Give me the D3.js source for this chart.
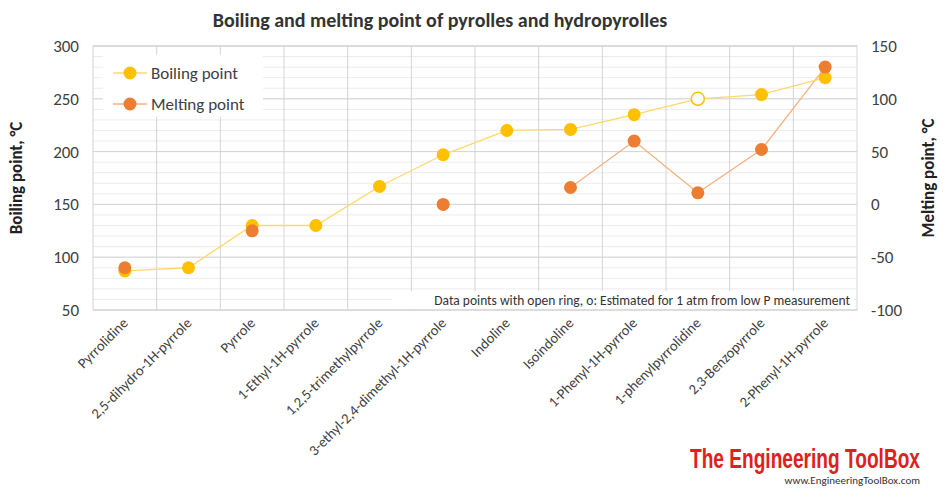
<!DOCTYPE html>
<html><head><meta charset="utf-8">
<script src="https://cdn.jsdelivr.net/npm/d3@7"></script>
<style>body{margin:0;background:#fff}svg{font-family:Calibri,"Liberation Sans",Arial,sans-serif}</style>
</head><body>
<svg id="chart" width="944" height="490"></svg>
<script>
const compounds = ["Pyrrolidine","2,5-dihydro-1H-pyrrole","Pyrrole","1-Ethyl-1H-pyrrole","1,2,5-trimethylpyrrole","3-ethyl-2,4-dimethyl-1H-pyrrole","Indoline","Isoindoline","1-Phenyl-1H-pyrrole","1-phenylpyrrolidine","2,3-Benzopyrrole","2-Phenyl-1H-pyrrole"];
const boiling = [87, 90, 130, 130, 167, 197, 220, 221, 235, 250, 254, 270];
const boilingEstimated = [false,false,false,false,false,false,false,false,false,true,false,false];
const melting = [-60, null, -25, null, null, 0, null, 16, 60, 11, 52, 130];
const leftTicks = [50,100,150,200,250,300];
const rightTicks = [-100,-50,0,50,100,150];

const svg = d3.select("#chart");
const L = 93, R = 857, T = 46, B = 310;
const x = d3.scaleBand().domain(compounds).range([L, R]);
const yB = d3.scaleLinear().domain([50, 300]).range([B, T]);
const yM = d3.scaleLinear().domain([-100, 150]).range([B, T]);

// minor grid
svg.append("g").selectAll("line").data(d3.range(50, 301, 10)).join("line")
  .attr("x1", L).attr("x2", R).attr("y1", d => yB(d)).attr("y2", d => yB(d))
  .attr("stroke", "#ececec");
svg.append("g").selectAll("line").data(leftTicks).join("line")
  .attr("x1", L).attr("x2", R).attr("y1", d => yB(d)).attr("y2", d => yB(d))
  .attr("stroke", "#d4d4d4");
svg.append("g").selectAll("line").data(compounds.slice(1)).join("line")
  .attr("x1", d => x(d)).attr("x2", d => x(d)).attr("y1", T).attr("y2", B)
  .attr("stroke", "#d4d4d4");
svg.append("rect").attr("x", L).attr("y", T).attr("width", R - L).attr("height", B - T)
  .attr("fill", "none").attr("stroke", "#d4d4d4");

// axes
const ga = svg.append("g").attr("font-size", 17).attr("fill", "#404040");
ga.selectAll(".l").data(leftTicks).join("text").attr("x", L - 14).attr("y", d => yB(d) + 6)
  .attr("text-anchor", "end").text(d => d);
ga.selectAll(".r").data(rightTicks).join("text").attr("x", R + 14).attr("y", d => yM(d) + 6)
  .attr("text-anchor", "start").text(d => d);
svg.append("text").attr("transform", `translate(22,${(T + B) / 2}) rotate(-90)`)
  .attr("text-anchor", "middle").attr("font-size", 17).attr("font-weight", "bold").attr("fill", "#222")
  .text("Boiling point, °C");
svg.append("text").attr("transform", `translate(934,${(T + B) / 2}) rotate(-90)`)
  .attr("text-anchor", "middle").attr("font-size", 17).attr("font-weight", "bold").attr("fill", "#222")
  .text("Melting point, °C");
svg.append("g").selectAll("text").data(compounds).join("text")
  .attr("transform", d => `translate(${x(d) + x.bandwidth() / 2 + 4},${B + 14}) rotate(-45)`)
  .attr("text-anchor", "end").attr("font-size", 14.5).attr("fill", "#404040").text(d => d);

// title
svg.append("text").attr("x", 440).attr("y", 27).attr("text-anchor", "middle")
  .attr("font-size", 20).attr("font-weight", "bold").attr("fill", "#333")
  .text("Boiling and melting point of pyrolles and hydropyrolles");

const cx = d => x(d) + x.bandwidth() / 2;
const bData = compounds.map((c, i) => ({c, v: boiling[i], open: boilingEstimated[i]}));
const mData = compounds.map((c, i) => ({c, v: melting[i]}));

svg.append("path").datum(mData)
  .attr("d", d3.line().defined((d, i) => d.v != null && i > 0 && mData[i - 1].v != null || (d.v != null && i < mData.length - 1 && mData[i + 1].v != null))
    .x(d => cx(d.c)).y(d => yM(d.v)))
  .attr("fill", "none").attr("stroke", "#f4b183").attr("stroke-width", 1.3);
svg.append("path").datum(bData)
  .attr("d", d3.line().x(d => cx(d.c)).y(d => yB(d.v)))
  .attr("fill", "none").attr("stroke", "#ffd966").attr("stroke-width", 1.3);

svg.append("g").selectAll("circle").data(bData).join("circle")
  .attr("cx", d => cx(d.c)).attr("cy", d => yB(d.v)).attr("r", 6.5)
  .attr("fill", d => d.open ? "#fff" : "#ffc000").attr("stroke", "#ffc000").attr("stroke-width", d => d.open ? 1.5 : 0);
svg.append("g").selectAll("circle").data(mData.filter(d => d.v != null)).join("circle")
  .attr("cx", d => cx(d.c)).attr("cy", d => yM(d.v)).attr("r", 6.5).attr("fill", "#ed7d31");

// legend
const lg = svg.append("g");
lg.append("rect").attr("x", 103).attr("y", 55).attr("width", 160).attr("height", 62).attr("fill", "#fff");
[["Boiling point", "#ffd966", "#ffc000", 73], ["Melting point", "#f4b183", "#ed7d31", 104]].forEach(([t, lc, fc, y]) => {
  lg.append("line").attr("x1", 113).attr("x2", 147).attr("y1", y).attr("y2", y).attr("stroke", lc).attr("stroke-width", 1.3);
  lg.append("circle").attr("cx", 130).attr("cy", y).attr("r", 6.5).attr("fill", fc);
  lg.append("text").attr("x", 151).attr("y", y + 6).attr("font-size", 17).attr("fill", "#404040").text(t);
});

svg.append("rect").attr("x", 392).attr("y", 291).attr("width", 462).attr("height", 18).attr("fill", "#fff");
svg.append("text").attr("x", 850).attr("y", 305).attr("text-anchor", "end").attr("font-size", 13.5).attr("fill", "#333")
  .text("Data points with open ring, o: Estimated for 1 atm from low P measurement");

// logo
svg.append("text").attr("x", 920).attr("y", 468).attr("text-anchor", "end").attr("font-size", 27)
  .attr("font-weight", "bold").attr("fill", "#e0201b").attr("font-family", "'Liberation Sans Narrow',Arial,sans-serif")
  .attr("textLength", 230).attr("lengthAdjust", "spacingAndGlyphs")
  .text("The Engineering ToolBox");
svg.append("text").attr("x", 920).attr("y", 484).attr("text-anchor", "end").attr("font-size", 11)
  .attr("fill", "#333").text("www.EngineeringToolBox.com");
</script>
</body></html>
